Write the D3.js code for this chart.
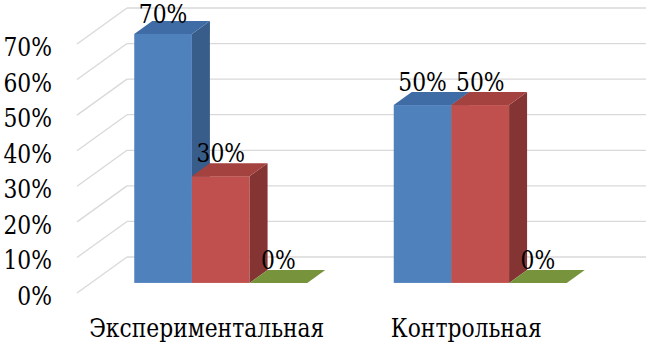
<!DOCTYPE html>
<html>
<head>
<meta charset="utf-8">
<script src="https://cdn.jsdelivr.net/npm/d3@7"></script>
<style>
  html, body { margin: 0; padding: 0; background: #ffffff; }
  svg { display: block; }
</style>
</head>
<body>
<svg id="chart" width="651" height="345"></svg>
<script>
// ---- data ----
const categories = ["Экспериментальная", "Контрольная"];
const seriesNames = ["Серия 1", "Серия 2", "Серия 3"];
const seriesBlue = [70, 50];
const seriesRed = [30, 50];
const seriesGreen = [0, 0];
const yTicks = [0, 10, 20, 30, 40, 50, 60, 70];
const yTickLabels = ["0%", "10%", "20%", "30%", "40%", "50%", "60%", "70%"];

// ---- styles ----
const colors = [
  { front: "#4F81BD", top: "#3F6CA5", side: "#385D8A" },
  { front: "#C0504D", top: "#A4423F", side: "#843533" },
  { front: "#77933C", top: "#77933C", side: "#5E752F" }
];
const gridColor = "#D9D9D9";
const fontSize = 26;
const fontFamily = "'DejaVu Serif', serif";
const hScale = 0.84; // horizontal condensing to mimic Times-like proportions

const svg = d3.select("#chart");

// front plane scales
const x = d3.scaleBand().domain(categories).range([77, 596]).paddingInner(0).paddingOuter(0);
const y = d3.scaleLinear().domain([0, 70]).range([293, 44]);

// depth vector of the whole floor
const DX = 50, DY = -36;
// bar depth (fractions of floor depth)
const dFront = 0.28, dBack = 0.64;
const bdx0 = DX * dFront, bdy0 = DY * dFront;
const bdx = DX * (dBack - dFront), bdy = DY * (dBack - dFront);

// ---- walls / gridlines ----
const grid = svg.append("g");
yTicks.forEach(v => {
  grid.append("line")
    .attr("x1", x.range()[0]).attr("y1", y(v))
    .attr("x2", x.range()[0] + DX).attr("y2", y(v) + DY)
    .attr("stroke", gridColor).attr("stroke-width", 1.3);
  grid.append("line")
    .attr("x1", x.range()[0] + DX).attr("y1", y(v) + DY)
    .attr("x2", x.range()[1] + DX).attr("y2", y(v) + DY)
    .attr("stroke", gridColor).attr("stroke-width", 1.3);
});

// text placed at (px,py) with horizontal condensing around its anchor
function addText(parent, px, py, str, anchor, dy) {
  const g = parent.append("g").attr("transform", `translate(${px},${py}) scale(${hScale},1)`);
  g.append("text")
    .attr("x", 0).attr("y", 0)
    .attr("dy", dy || 0)
    .attr("text-anchor", anchor)
    .style("font-family", fontFamily)
    .style("font-size", fontSize + "px")
    .attr("fill", "#000")
    .text(str);
}

// ---- y axis labels ----
const yAxisG = svg.append("g");
yTicks.forEach((t, i) => addText(yAxisG, 52, y(t), yTickLabels[i], "end", "0.46em"));

// ---- bars ----
const seriesData = [seriesBlue, seriesRed, seriesGreen];
const bw = x.bandwidth() / (seriesData.length + 1.5);
const gap = (x.bandwidth() - bw * seriesData.length) / 2;
const bars = svg.append("g");
const labels = [];

categories.forEach((cat, ci) => {
  seriesData.forEach((vals, si) => {
    const v = vals[ci];
    const c = colors[si];
    const x0 = x(cat) + gap + si * bw + bdx0;
    const yb = y(0) + bdy0;
    const yt = y(v) + bdy0;
    const pts = a => a.map(p => p.join(",")).join(" ");
    if (v > 0) {
      bars.append("rect").attr("x", x0).attr("y", yt).attr("width", bw).attr("height", yb - yt)
        .attr("fill", c.front);
      bars.append("polygon").attr("points", pts([[x0 + bw, yt], [x0 + bw + bdx, yt + bdy], [x0 + bw + bdx, yb + bdy], [x0 + bw, yb]]))
        .attr("fill", c.side);
    }
    bars.append("polygon").attr("points", pts([[x0, yt], [x0 + bw, yt], [x0 + bw + bdx, yt + bdy], [x0 + bdx, yt + bdy]]))
      .attr("fill", c.top);
    labels.push({ x: x0 + bw / 2, y: Math.max(yt - 14, 23), text: v + "%" });
  });
});

// ---- data labels ----
const dl = svg.append("g");
labels.forEach(d => addText(dl, d.x, d.y, d.text, "middle"));

// ---- category labels ----
const cl = svg.append("g");
categories.forEach(c => addText(cl, x(c) + x.bandwidth() / 2, 337, c, "middle"));
</script>
</body>
</html>
